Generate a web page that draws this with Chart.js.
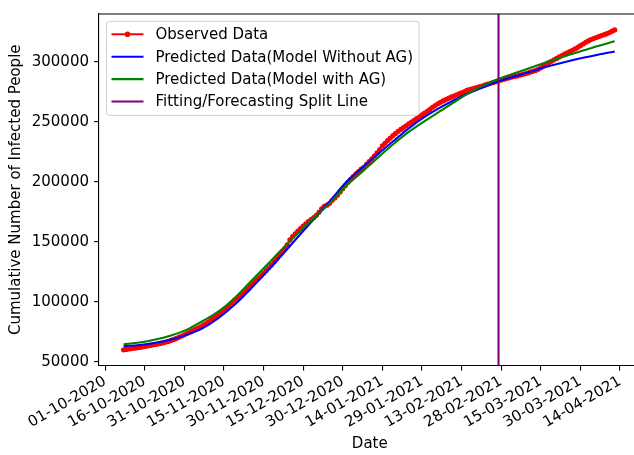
<!DOCTYPE html>
<html>
<head>
<meta charset="utf-8">
<script src="https://cdn.jsdelivr.net/npm/chart.js@4.4.1/dist/chart.umd.min.js"></script>
<style>
  html, body { margin: 0; padding: 0; background: #fff; overflow: hidden; }
  #wrap { width: 646px; height: 455px; }
</style>
</head>
<body>
<div id="wrap"><canvas id="chart" width="646" height="455"></canvas></div>
<script>
// dates are dd-mm-yyyy, x axis runs in days from 01-10-2020
const tickLabels = [
  "01-10-2020", "16-10-2020", "31-10-2020", "15-11-2020", "30-11-2020", "15-12-2020", "30-12-2020",
  "14-01-2021", "29-01-2021", "13-02-2021", "28-02-2021", "15-03-2021", "30-03-2021", "14-04-2021",
];
const yTicks = [50000, 100000, 150000, 200000, 250000, 300000];

const obsStart = "08-10-2020";
const observed = [
  60000, 60300, 60700, 61000, 61300, 61600, 62000, 62400, 62800, 63200,
  63600, 64000, 64400, 64800, 65300, 65800, 66400, 67000, 67800, 68600,
  69500, 70500, 71500, 72500, 73600, 74600, 75700, 76800, 77800, 78800,
  80200, 81600, 83000, 84600, 86200, 87800, 89400, 91000, 92800, 94800,
  97000, 99200, 101400, 103000, 104500, 106000, 108300, 110800, 113200, 115400,
  117500, 119500, 121500, 123700, 126000, 128300, 130700, 133200, 135800, 138500,
  141200, 144000, 147500, 151500, 154400, 156600, 158800, 161000, 163000, 165000,
  166800, 168500, 170200, 172000, 174500, 177500, 179500, 180500, 182000, 184500,
  186500, 188800, 191500, 194200, 196800, 199500, 202000, 204300, 206500, 208500,
  210500, 212100, 214500, 216800, 219200, 221700, 224000, 226800, 230000, 232000,
  234300, 236400, 238400, 240300, 242000, 243600, 245200, 246700, 248200, 249700,
  251200, 252700, 254200, 255700, 257200, 258700, 260300, 262000, 263500, 265000,
  266200, 267400, 268500, 269500, 270500, 271400, 272300, 273200, 274100, 275000,
  276200, 276800, 277400, 278000, 278700, 279400, 280000, 280700, 281400, 282100,
  282800, 283500, 284200, 284800, 285400, 286000, 286600, 287200, 287700, 288200,
  288800, 289400, 290000, 290600, 291300, 292000, 292800, 293700, 295000, 296500,
  298000, 299200, 300400, 301600, 302800, 304000, 305200, 306400, 307500, 308500,
  309600, 310700, 312000, 313400, 314800, 316200, 317400, 318500, 319400, 320200,
  321000, 321800, 322600, 323400, 324400, 325500, 326500,
];

const modelDays = [7, 13, 19, 25, 31, 37, 43, 49, 55, 61, 67, 73, 79, 85, 91, 97,
  103, 109, 115, 121, 127, 133, 139, 145, 151, 157, 163, 169, 175, 181, 187, 193];
const withoutAG = [63000, 64000, 65800, 68600, 72600, 78000, 86500, 97500, 110500, 124500,
  139000, 154000, 168800, 183500, 199000, 211000, 222500, 233500, 244500, 254000,
  262000, 269000, 275000, 280500, 285000, 289000, 293000, 296800, 300200, 303300,
  306100, 308600];
const withAG = [64500, 66000, 68500, 72000, 76800, 84000, 92000, 103000, 116500, 130000,
  143800, 157000, 169500, 182000, 196000, 207500, 219500, 231000, 241500, 250500,
  259000, 267500, 275500, 282000, 287300, 291900, 296500, 301000, 305300, 309300,
  313300, 317000];

const splitDate = "27-02-2021";
const seriesNames = [
  "Observed Data",
  "Predicted Data(Model Without AG)",
  "Predicted Data(Model with AG)",
  "Fitting/Forecasting Split Line",
];

const ORIGIN = Date.UTC(2020, 9, 1);
function dayOf(s) {
  const [d, m, y] = s.split("-").map(Number);
  return (Date.UTC(y, m - 1, d) - ORIGIN) / 86400000;
}

const Y_MIN = 46900;
const Y_MAX = 339800;
const FONT = "DejaVu Sans";
const FS = 15;
const obsDay0 = dayOf(obsStart);
const splitDay = dayOf(splitDate);

const frame = {
  id: "frame",
  afterDatasetsDraw(chart) {
    const { ctx, chartArea: a } = chart;
    ctx.save();
    ctx.strokeStyle = "#000";
    ctx.lineWidth = 1.1;
    ctx.beginPath();
    ctx.moveTo(a.left, a.top);
    ctx.lineTo(a.right, a.top);
    ctx.lineTo(a.right, a.bottom);
    ctx.stroke();
    ctx.restore();
  },
};

const boxLegend = {
  id: "boxLegend",
  afterDraw(chart) {
    const { ctx, chartArea: a } = chart;
    const sets = chart.data.datasets;
    ctx.save();
    ctx.font = `${FS}px ${FONT}`;
    const textW = Math.max(...sets.map(d => ctx.measureText(d.label).width));
    const x = a.left + 7.5, y = a.top + 7.3;
    const w = 49 + textW + 6, h = 94;
    ctx.beginPath();
    ctx.roundRect(x, y, w, h, 3);
    ctx.fillStyle = "rgba(255,255,255,0.8)";
    ctx.fill();
    ctx.strokeStyle = "#d0d0d0";
    ctx.lineWidth = 1;
    ctx.stroke();
    sets.forEach((d, i) => {
      const cy = y + 13 + i * 22.4;
      ctx.strokeStyle = d.borderColor;
      ctx.lineWidth = 2.1;
      ctx.beginPath();
      ctx.moveTo(x + 5, cy);
      ctx.lineTo(x + 37, cy);
      ctx.stroke();
      if (d.pointRadius > 0) {
        ctx.fillStyle = d.borderColor;
        ctx.beginPath();
        ctx.arc(x + 21, cy, 2.8, 0, Math.PI * 2);
        ctx.fill();
      }
      ctx.fillStyle = "#000";
      ctx.textBaseline = "middle";
      ctx.fillText(d.label, x + 49, cy + 1);
    });
    ctx.restore();
  },
};

new Chart(document.getElementById("chart"), {
  type: "line",
  data: {
    datasets: [
      {
        label: seriesNames[0],
        data: observed.map((v, i) => ({ x: obsDay0 + i, y: v })),
        borderColor: "#ff0000",
        backgroundColor: "#ff0000",
        borderWidth: 2,
        pointRadius: 2.6,
        pointBorderWidth: 0,
        order: 4,
      },
      {
        label: seriesNames[1],
        data: modelDays.map((d, i) => ({ x: d, y: withoutAG[i] })),
        borderColor: "#0000ff",
        borderWidth: 2.1,
        pointRadius: 0,
        cubicInterpolationMode: "monotone",
        order: 3,
      },
      {
        label: seriesNames[2],
        data: modelDays.map((d, i) => ({ x: d, y: withAG[i] })),
        borderColor: "#008000",
        borderWidth: 2.1,
        pointRadius: 0,
        cubicInterpolationMode: "monotone",
        order: 2,
      },
      {
        label: seriesNames[3],
        data: [{ x: splitDay, y: Y_MIN }, { x: splitDay, y: Y_MAX }],
        borderColor: "#800080",
        borderWidth: 2.1,
        pointRadius: 0,
        order: 1,
      },
    ],
  },
  options: {
    responsive: false,
    animation: false,
    devicePixelRatio: 1,
    layout: { padding: { top: 10, right: 5.4, left: 0, bottom: 0 } },
    plugins: { legend: { display: false }, tooltip: { enabled: false } },
    scales: {
      x: {
        type: "linear",
        min: -2.3,
        max: 202.8,
        afterBuildTicks: (s) => { s.ticks = tickLabels.map(l => ({ value: dayOf(l) })); },
        afterFit: (s) => { s.height = 89.5; },
        ticks: {
          autoSkip: false,
          minRotation: 30,
          maxRotation: 30,
          color: "#000",
          padding: 2,
          font: { family: FONT, size: FS },
          callback: (v, i) => tickLabels[i],
        },
        grid: { drawOnChartArea: false, color: "#000", tickLength: 5, lineWidth: 1.1 },
        border: { color: "#000", width: 1.1 },
        title: {
          display: true,
          text: "Date",
          color: "#000",
          font: { family: FONT, size: FS },
          padding: { top: 0, bottom: 2 },
        },
      },
      y: {
        min: Y_MIN,
        max: Y_MAX,
        afterBuildTicks: (s) => { s.ticks = yTicks.map(v => ({ value: v })); },
        afterFit: (s) => { s.width = 99; },
        ticks: {
          color: "#000",
          padding: 5,
          font: { family: FONT, size: FS },
          callback: (v) => String(v),
        },
        grid: { drawOnChartArea: false, color: "#000", tickLength: 5, lineWidth: 1.1 },
        border: { color: "#000", width: 1.1 },
        title: {
          display: true,
          text: "Cumulative Number of Infected People",
          color: "#000",
          font: { family: FONT, size: FS },
          padding: { top: 7, bottom: 0 },
        },
      },
    },
  },
  plugins: [frame, boxLegend],
});
</script>
</body>
</html>
